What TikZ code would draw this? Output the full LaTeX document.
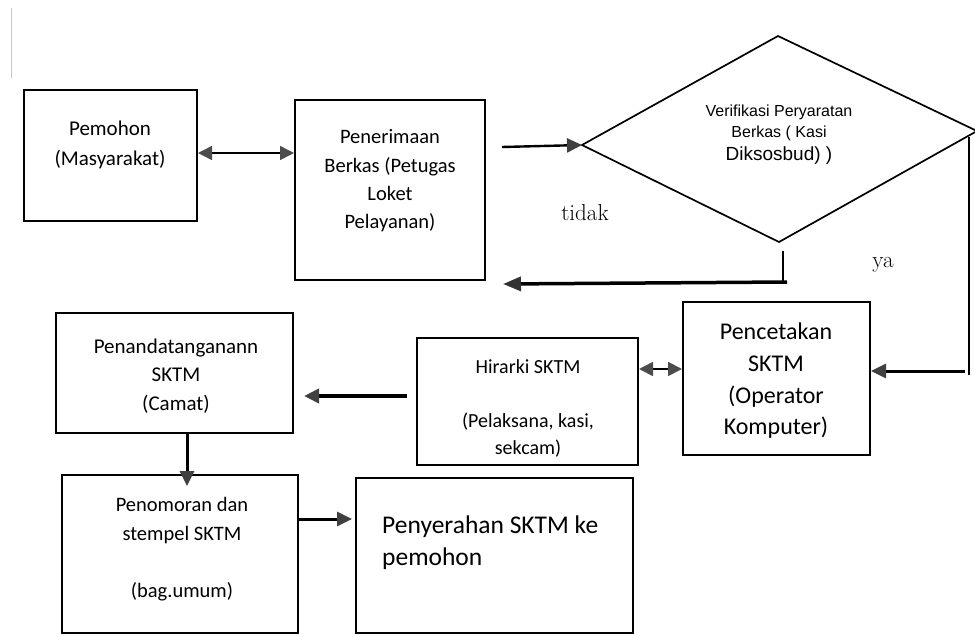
\documentclass[tikz,border=0pt]{standalone}
\usepackage{fontspec}
\setmainfont{Carlito}
\newfontfamily\arialf{Liberation Sans}
\newfontfamily\serf{Latin Modern Roman}
\usetikzlibrary{arrows.meta,calc}
\begin{document}
\begin{tikzpicture}[x=1pt,y=-1pt,
  box/.style={draw, line width=2pt, inner sep=0pt, anchor=center},
  txt/.style={align=center, inner sep=0pt},
  gtip/.tip={Triangle[length=15pt,width=14pt,color=black!75]},
  stip/.tip={Triangle[length=14pt,width=14pt,color=black!70]},
  onearrow/.style={-gtip},
  twoarrow/.style={stip-stip}
]
\useasboundingbox (0,0) rectangle (975,637);
% scan artefact
\coordinate (sa1) at (11,8);
\coordinate (sa2) at (11,78);
\draw[gray!45, line width=0.8pt] (sa1) -- (sa2);

% boxes
\node[box, minimum width=173pt, minimum height=131pt] (pem) at (110.5,155.5) {};
\node[box, minimum width=190pt, minimum height=180pt] (pen) at (390,190) {};
\node[box, minimum width=187pt, minimum height=153pt] (pct) at (776.5,378.5) {};
\node[box, minimum width=221pt, minimum height=127pt] (hir) at (527.5,401.5) {};
\node[box, minimum width=237pt, minimum height=120pt] (ttd) at (174.5,373) {};
\node[box, minimum width=236pt, minimum height=158pt] (nom) at (180,554) {};
\node[box, minimum width=277pt, minimum height=155pt] (srh) at (494.5,555.5) {};

% decision diamond
\coordinate (dl) at (582,145);
\coordinate (dt) at (778,36);
\coordinate (dr) at (977,131);
\coordinate (db) at (779,242);
\draw[line width=1.7pt, line join=miter] (dl) -- (dt) -- (dr) -- (db) -- cycle;

% texts
\node[txt, font=\fontsize{21}{30}\selectfont] (tpem) at (110,145) {Pemohon\\(Masyarakat)};
\node[txt, font=\fontsize{20.5}{28.3}\selectfont] (tpen) at (390,181) {Penerimaan\\Berkas (Petugas\\Loket\\Pelayanan)};
\node[txt, font=\arialf\fontsize{16}{20.5}\selectfont] (tdia) at (779,135) {Verifikasi Peryaratan\\Berkas ( Kasi\\[3pt]{\fontsize{19}{22}\selectfont Diksosbud) )}};
\node[txt, font=\fontsize{24}{31.7}\selectfont] (tpct) at (776,381) {Pencetakan\\SKTM\\(Operator\\Komputer)};
\node[txt, font=\fontsize{20}{27}\selectfont] (thir) at (528,408) {Hirarki SKTM\\[27pt](Pelaksana, kasi,\\sekcam)};
\node[txt, font=\fontsize{21}{28.5}\selectfont] (tttd) at (176,376) {Penandatanganann\\SKTM\\(Camat)};
\node[txt, font=\fontsize{20.5}{28.5}\selectfont] (tnom) at (182,549) {Penomoran dan\\stempel SKTM\\[28.5pt](bag.umum)};
\node[txt, align=left, anchor=west, font=\fontsize{25.5}{32}\selectfont] (tsrh) at (382,543) {Penyerahan SKTM ke\\pemohon};
\node[inner sep=0pt, anchor=base, font=\serf\fontsize{23}{26}\selectfont] (ttidak) at (585,220) {tidak};
\node[inner sep=0pt, anchor=base, font=\serf\fontsize{23}{26}\selectfont] (tya) at (883,267) {ya};

% connectors
\draw[twoarrow, line width=1.5pt] (pem.east |- 0,153) -- (pen.west |- 0,153);
\draw[onearrow, line width=2.4pt] ($(pen.east |- 0,147)+(16,0)$) -- (dl);
% tidak branch
\coordinate (tk) at (783,282);
\draw[line width=1.3pt] ($(db)+(4,9)$) -- (tk);
\draw[-{Triangle[length=18pt,width=14pt,color=black!80]}, line width=3.5pt] ($(tk)+(4,0)$) -- ($(pen.east |- 0,284)+(17,0)$);
% ya branch
\coordinate (yr) at (969,371);
\draw[line width=1.8pt] ($(dr)+(-8,6)$) -- ($(yr)+(0,4)$);
\draw[onearrow, line width=3pt] ($(yr)+(-4,0)$) -- (pct.east |- yr);
% Hirarki <-> Pencetakan
\draw[twoarrow, line width=1.8pt] (hir.east |- 0,369) -- (pct.west |- 0,369);
% Hirarki -> Penandatanganan
\draw[onearrow, line width=4pt] ($(hir.west |- 0,396)+(-9,0)$) -- ($(ttd.east |- 0,396)+(10,0)$);
% Penandatanganan -> Penomoran
\draw[onearrow, line width=3pt] (ttd.south -| 187,0) -- ($(nom.north -| 187,0)+(0,12)$);
% Penomoran -> Penyerahan
\draw[onearrow, line width=3pt] (nom.east |- 0,519) -- ($(srh.west |- 0,519)+(-3,0)$);
\end{tikzpicture}
\end{document}
